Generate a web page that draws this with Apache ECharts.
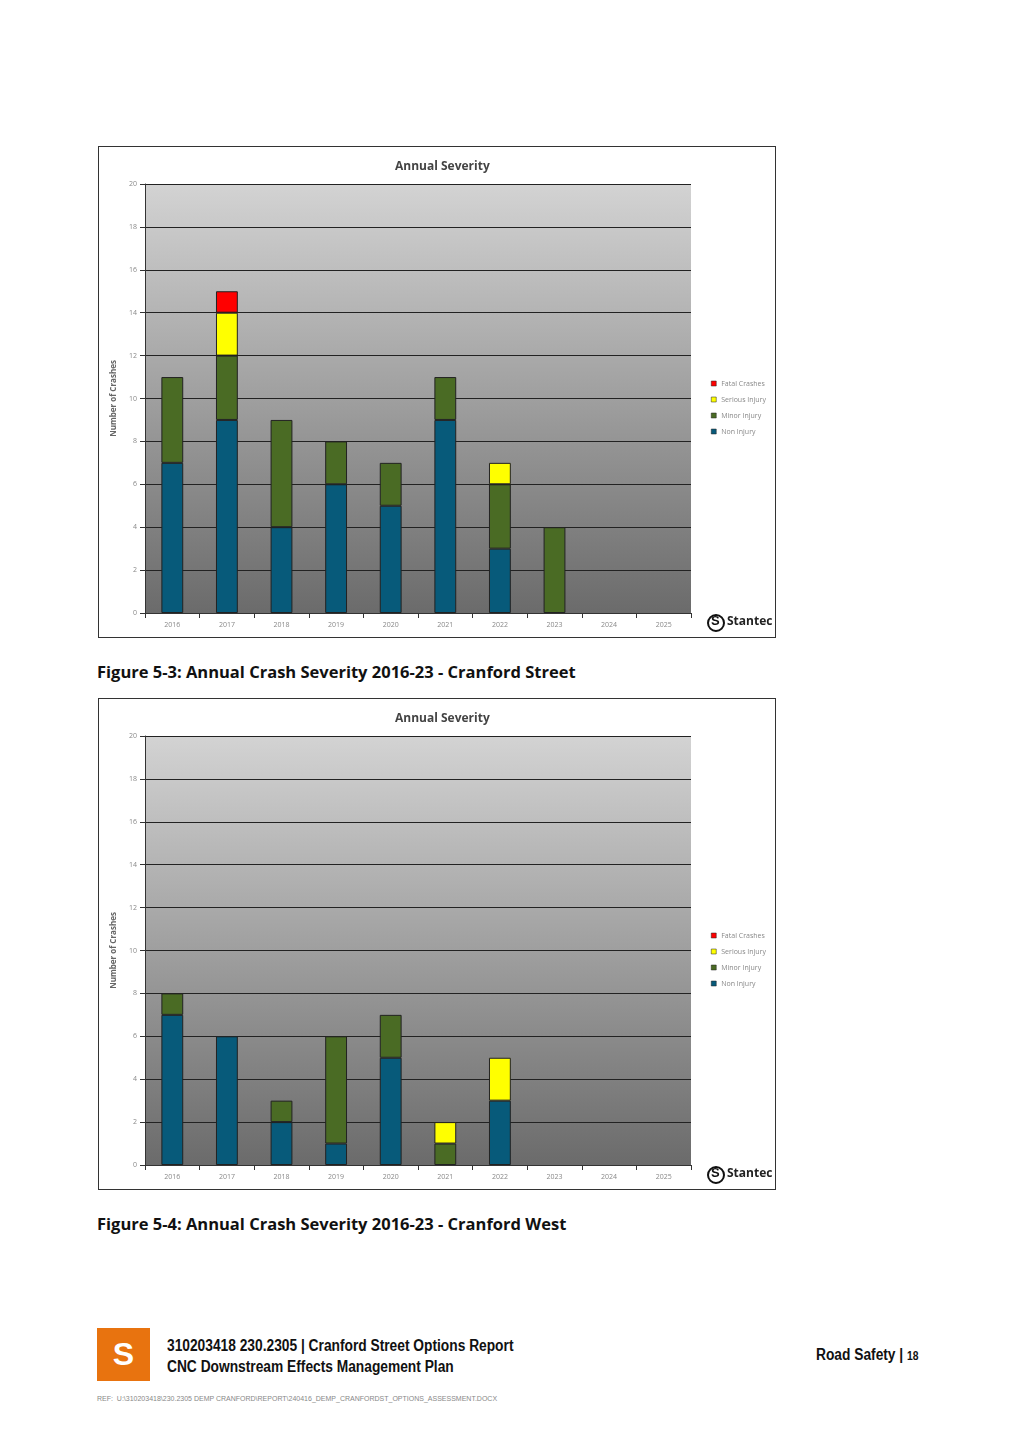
<!DOCTYPE html>
<html><head><meta charset="utf-8">
<script src="https://cdn.jsdelivr.net/npm/echarts@6/dist/echarts.min.js"></script>
<style>
body{margin:0;width:1012px;height:1433px;background:#fff;position:relative;font-family:"Liberation Sans",Arial,sans-serif;}
.box{position:absolute;left:98px;width:676px;height:490px;border:1px solid #333;}
.cap{position:absolute;left:97px;font-family:"Open Sans",sans-serif;font-weight:bold;font-size:16.5px;color:#111;}
.ft{position:absolute;font-weight:bold;font-size:16px;color:#111;transform-origin:0 0;transform:scaleX(0.86);white-space:nowrap}
</style></head><body>
<div id="c1" class="box" style="top:146px"></div>
<div class="cap" style="top:660px">Figure 5-3: Annual Crash Severity 2016-23 - Cranford Street</div>
<div id="c2" class="box" style="top:698px"></div>
<div class="cap" style="top:1212px">Figure 5-4: Annual Crash Severity 2016-23 - Cranford West</div>
<div style="position:absolute;left:97px;top:1328px;width:53px;height:53px;background:#e8730f;color:#fff;font-size:32px;text-align:center;line-height:53px;font-weight:bold">S</div>
<div class="ft" style="left:167px;top:1335px;line-height:21px">310203418 230.2305 | Cranford Street Options Report<br>CNC Downstream Effects Management Plan</div>
<div class="ft" style="left:816px;top:1346px">Road Safety | <span style="font-size:12px">18</span></div>
<div style="position:absolute;left:97px;top:1395px;font-size:7px;color:#888">REF:&nbsp; U:\310203418\230.2305 DEMP CRANFORD\REPORT\240416_DEMP_CRANFORDST_OPTIONS_ASSESSMENT.DOCX</div>
<script>
var years = ['2016','2017','2018','2019','2020','2021','2022','2023','2024','2025'];
// Figure 5-3 Cranford Street
var streetNon = [7, 9, 4, 6, 5, 9, 3, 0, 0, 0];
var streetMinor = [4, 3, 5, 2, 2, 2, 3, 4, 0, 0];
var streetSerious = [0, 2, 0, 0, 0, 0, 1, 0, 0, 0];
var streetFatal = [0, 1, 0, 0, 0, 0, 0, 0, 0, 0];
// Figure 5-4 Cranford West
var westNon = [7, 6, 2, 1, 5, 0, 3, 0, 0, 0];
var westMinor = [1, 0, 1, 5, 2, 1, 0, 0, 0, 0];
var westSerious = [0, 0, 0, 0, 0, 1, 2, 0, 0, 0];
var westFatal = [0, 0, 0, 0, 0, 0, 0, 0, 0, 0];

function bar(name, data, color) {
    return {
        name: name, type: 'bar', stack: 's', barWidth: '40%',
        data: data.map(function (v) { return v === 0 ? '-' : v; }), // hide empty segments
        itemStyle: {color: color, borderColor: '#222', borderWidth: 1},
        emphasis: {disabled: true}
    };
}

function makeChart(id, non, minor, serious, fatal) {
    var chart = echarts.init(document.getElementById(id));
    chart.setOption({
        animation: false,
        title: {text: 'Annual Severity', left: 291, top: 9, textStyle: {fontSize: 12, color: '#444', fontFamily: 'Open Sans', fontWeight: 'bold'}},
        grid: {left: 46, right: 84, top: 37, bottom: 24, show: true, borderWidth: 0,
            backgroundColor: {type: 'linear', x: 0, y: 0, x2: 0, y2: 1,
                colorStops: [{offset: 0, color: '#d3d3d3'}, {offset: 1, color: '#6b6b6b'}]}},
        legend: {orient: 'vertical', left: 607, top: 228, itemWidth: 5, itemHeight: 5, itemGap: 9,
            icon: 'rect', itemStyle: {borderWidth: 0.5},
            textStyle: {fontSize: 7, color: '#888', fontFamily: 'Open Sans'},
            data: ['Fatal Crashes', 'Serious Injury', 'Minor Injury', 'Non Injury']},
        xAxis: {type: 'category', data: years,
            axisLine: {lineStyle: {color: '#333'}}, axisTick: {show: true, lineStyle: {color: '#333'}},
            axisLabel: {fontSize: 7, color: '#888', fontFamily: 'Open Sans'}},
        yAxis: {type: 'value', min: 0, max: 20, interval: 2,
            name: 'Number of Crashes', nameLocation: 'middle', nameGap: 24,
            nameTextStyle: {fontSize: 8, color: '#666', fontFamily: 'Open Sans', fontWeight: 'bold'},
            axisLine: {show: true, lineStyle: {color: '#333'}}, axisTick: {show: true},
            axisLabel: {fontSize: 7, color: '#888', fontFamily: 'Open Sans'},
            splitLine: {lineStyle: {color: '#222', width: 1}}},
        graphic: [
            {type: 'circle', left: 608, top: 467, shape: {r: 8}, style: {fill: '#fff', stroke: '#111', lineWidth: 2}},
            {type: 'text', left: 612, top: 468, style: {text: 'S', fontSize: 13, fontWeight: 'bold', fill: '#111'}},
            {type: 'text', left: 628, top: 469, style: {text: 'Stantec', fontSize: 12, fontWeight: 'bold', fill: '#222', fontFamily: 'Open Sans'}}
        ],
        series: [
            bar('Non Injury', non, '#075a7a'),
            bar('Minor Injury', minor, '#4a6b24'),
            bar('Serious Injury', serious, '#ffff00'),
            bar('Fatal Crashes', fatal, '#ff0000')
        ]
    });
}

makeChart('c1', streetNon, streetMinor, streetSerious, streetFatal);
makeChart('c2', westNon, westMinor, westSerious, westFatal);
</script>
</body></html>
